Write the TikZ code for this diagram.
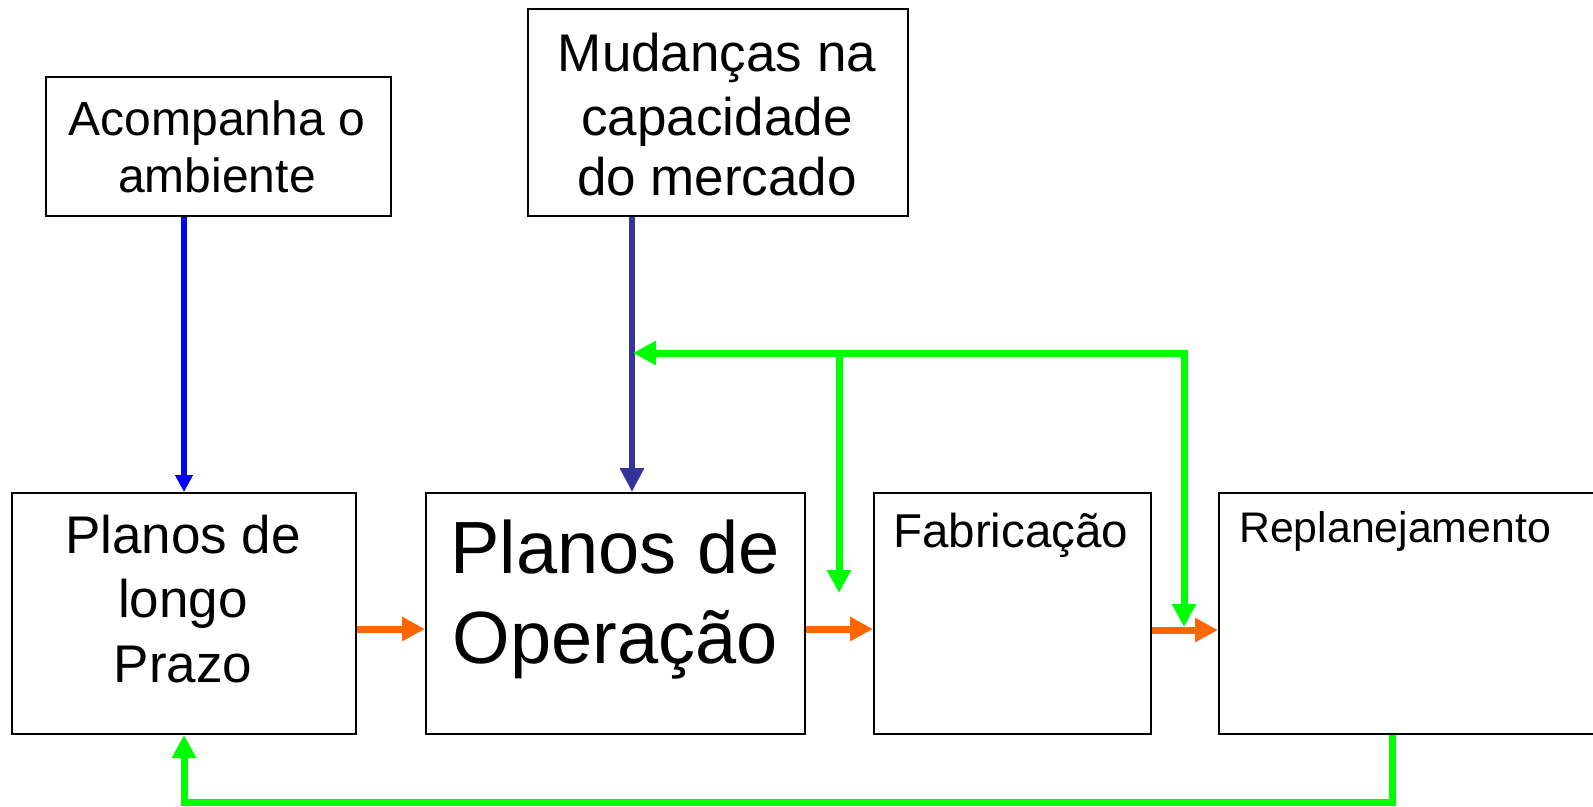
\documentclass[tikz,border=0pt]{standalone}
\usepackage{fontspec}
\setmainfont{Liberation Sans}
\usetikzlibrary{arrows.meta}
\definecolor{gr}{HTML}{00FF00}
\definecolor{orng}{HTML}{FF6600}
\definecolor{bl}{HTML}{0000FF}
\definecolor{dbl}{HTML}{333399}
\begin{document}
\begin{tikzpicture}[x=1pt,y=-1pt,
  box/.style={draw=black, line width=2pt, inner sep=0pt, anchor=north west, fill=white},
  ctxt/.style={inner sep=0pt, anchor=base},
  ltxt/.style={inner sep=0pt, anchor=base west},
  garrow/.style={draw=gr, line width=7pt, line join=miter, -{Triangle[length=23pt,width=23pt]}},
  oarrow/.style={draw=orng, line width=7pt, -{Triangle[length=23pt,width=23pt]}},
  barrow/.style={draw=bl, line width=6pt, -{Triangle[length=17pt,width=17pt]}},
  dbarrow/.style={draw=dbl, line width=6pt, -{Triangle[length=24pt,width=23pt]}}
]
\clip (0,0) rectangle (1593,806);
\fill[white] (0,0) rectangle (1593,806);
% boxes
\node[box, minimum width=345pt, minimum height=139pt] (acomp) at (45,76) {};
\node[box, minimum width=380pt, minimum height=207pt] (mud) at (527,8) {};
\node[box, minimum width=344pt, minimum height=241pt] (longo) at (11,492) {};
\node[box, minimum width=379pt, minimum height=241pt] (oper) at (425,492) {};
\node[box, minimum width=277pt, minimum height=241pt] (fab) at (873,492) {};
\node[box, minimum width=420pt, minimum height=241pt] (repl) at (1218,492) {};
% texts
\begin{scope}[font=\fontsize{48}{57}\selectfont]
\node[ctxt] (t1a) at (217,135) {Acompanha o};
\node[ctxt] (t1b) at (217,192) {ambiente};
\end{scope}
\begin{scope}[font=\fontsize{53}{62}\selectfont]
\node[ctxt] (t2a) at (717,71) {Mudanças na};
\node[ctxt] (t2b) at (717,135) {capacidade};
\node[ctxt] (t2c) at (717,195) {do mercado};
\end{scope}
\begin{scope}[font=\fontsize{53}{64}\selectfont]
\node[ctxt] (t3a) at (183,553) {Planos de};
\node[ctxt] (t3b) at (183,617) {longo};
\node[ctxt] (t3c) at (183,682) {Prazo};
\end{scope}
\begin{scope}[font=\fontsize{74}{90}\selectfont]
\node[ctxt] (t4a) at (615,573) {Planos de};
\node[ctxt] (t4b) at (615,663) {Operação};
\end{scope}
\node[ltxt, font=\fontsize{47.5}{56}\selectfont] (t5) at (893,547) {Fabricação};
\node[ltxt, font=\fontsize{42.8}{50}\selectfont] (t6) at (1239,542) {Replanejamento};
% coordinates
\coordinate (db) at (632,0);
\coordinate (oy) at (0,629);
\coordinate (gR) at (1184,353);
\coordinate (gJ) at (839,353);
\coordinate (gb) at (1392,802);
% blue connectors
\draw[barrow] (acomp.south -| longo.north) -- (longo.north);
\draw[dbarrow] (mud.south -| db) -- (oper.north -| db);
% orange connectors
\draw[oarrow] (longo.east |- oy) -- (oper.west |- oy);
\draw[oarrow] (oper.east |- oy) -- (fab.west |- oy);
\draw[oarrow] (fab.east |- 0,630) -- (repl.west |- 0,630);
% green connectors
\draw[garrow, line cap=rect] (gR) -- ([xshift=1pt]gR -| db);
\draw[garrow, line cap=rect] (gR) -- (gR |- 0,627);
\draw[garrow] (gJ) -- (gJ |- 0,593);
\draw[garrow] (repl.south -| gb) -- (gb) -- (gb -| longo.south) -- (longo.south);
\end{tikzpicture}
\end{document}
